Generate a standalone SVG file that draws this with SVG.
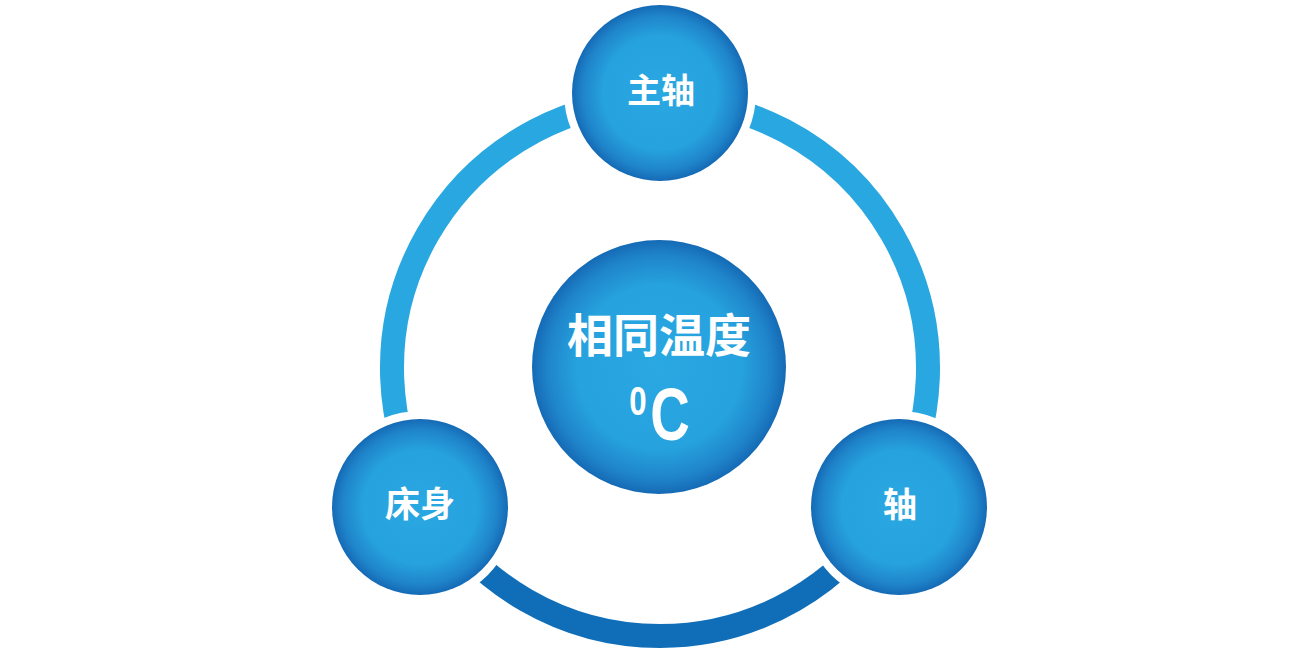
<svg xmlns="http://www.w3.org/2000/svg" width="1310" height="654" viewBox="0 0 1310 654">
<defs>
<radialGradient id="ball" cx="50%" cy="50%" r="50%">
<stop offset="0" stop-color="#2aa8e2"/>
<stop offset="0.65" stop-color="#26a2de"/>
<stop offset="0.88" stop-color="#1f84ca"/>
<stop offset="1" stop-color="#156ab5"/>
</radialGradient>
<style>
.ring{fill:none;stroke-width:24}
.light{stroke:#29a7e0}
.dark{stroke:#106eb8}
.gap{fill:#ffffff}
.ball{fill:url(#ball)}
.lbl{font-family:"Noto Sans CJK SC","Noto Sans",sans-serif;font-weight:bold;fill:#ffffff;text-anchor:middle}
.deg{font-family:"Liberation Sans",Arial,sans-serif;font-weight:bold;fill:#ffffff;text-anchor:middle}
</style>
</defs>
<rect width="1310" height="654" fill="#ffffff"/>
<g id="connectors">
<path class="ring light" d="M427.9,502 A268,268 0 1 1 892.1,502"/>
<path class="ring dark" d="M892.1,502 A268,268 0 0 1 427.9,502"/>
<circle class="gap" cx="660" cy="93" r="96"/>
<circle class="gap" cx="420" cy="507" r="96"/>
<circle class="gap" cx="899" cy="507" r="96"/>
</g>
<g id="center">
<circle class="ball" cx="659" cy="367" r="127"/>
<text class="lbl" x="659" y="352" font-size="46">相同温度</text>
<text class="deg" transform="translate(670,440) scale(0.74,1)" font-size="74">C</text>
<text class="deg" transform="translate(638,415) scale(0.78,1)" font-size="40">0</text>
</g>
<g id="node-top">
<circle class="ball" cx="660" cy="93" r="88"/>
<text class="lbl" x="661" y="103" font-size="34">主轴</text>
</g>
<g id="node-left">
<circle class="ball" cx="420" cy="507" r="88"/>
<text class="lbl" x="420" y="517" font-size="35">床身</text>
</g>
<g id="node-right">
<circle class="ball" cx="899" cy="507" r="88"/>
<text class="lbl" x="900" y="517" font-size="34">轴</text>
</g>
</svg>
